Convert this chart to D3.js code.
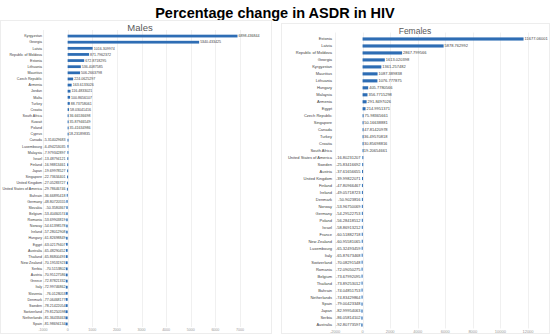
<!DOCTYPE html>
<html>
<head>
<meta charset="utf-8">
<script src="https://cdn.jsdelivr.net/npm/d3@7"></script>
<style>
  body { margin: 0; background: #fff; }
  text { font-family: "Liberation Sans", Arial, sans-serif; }
</style>
</head>
<body>
<svg id="chart" width="550" height="334"></svg>
<script>
// Males
var maleCountries = ["Kyrgyzstan", "Georgia", "Latvia", "Republic of Moldova", "Estonia", "Lithuania",
  "Mauritius", "Czech Republic", "Armenia", "Jordan", "Malta", "Turkey", "Croatia", "South Africa",
  "Kuwait", "Poland", "Cyprus", "Canada", "Luxembourg", "Malaysia", "Israel", "Finland", "Japan",
  "Singapore", "United Kingdom", "United States of America", "Bahrain", "Germany", "Slovakia",
  "Belgium", "Romania", "Norway", "Ireland", "Hungary", "Egypt", "Australia", "Thailand",
  "New Zealand", "Serbia", "Austria", "Greece", "Italy", "Slovenia", "Denmark", "Sweden",
  "Switzerland", "Netherlands", "Spain"];
var maleValues = [6898.436844, 5340.433425, 1016.309974, 871.7962372, 672.8718295, 536.4087585,
  506.2663798, 224.0625297, 163.6133026, 116.4833021, 100.8656107, 88.73758061, 58.03041416,
  36.66536698, 35.87946549, 35.41634986, 18.23189835, -5.314029683, -6.494253035, -7.979342897,
  -13.48794121, -16.98813461, -19.69978527, -22.73634401, -27.05283727, -29.78646746,
  -36.66895418, -48.80720555, -50.3580367, -53.40460574, -53.69903819, -54.61398578,
  -57.28012908, -61.82698849, -63.02179407, -65.48290452, -65.86800493, -70.19531923,
  -70.5153802, -70.95127586, -72.87821332, -72.99746862, -76.0128053, -77.06468177,
  -78.21422054, -79.81250598, -81.36433463, -81.98694134];
var maleTicks = [-1000, 0, 1000, 2000, 3000, 4000, 5000, 6000, 7000];

// Females
var femaleCountries = ["Estonia", "Latvia", "Republic of Moldova", "Georgia", "Kyrgyzstan",
  "Mauritius", "Lithuania", "Hungary", "Malaysia", "Armenia", "Egypt", "Czech Republic",
  "Singapore", "Canada", "Turkey", "Croatia", "South Africa", "United States of America",
  "Sweden", "Austria", "United Kingdom", "Finland", "Ireland", "Denmark", "Norway", "Germany",
  "Poland", "Israel", "France", "New Zealand", "Luxembourg", "Italy", "Switzerland", "Romania",
  "Belgium", "Thailand", "Bahrain", "Netherlands", "Spain", "Japan", "Serbia", "Australia"];
var femaleValues = [11677.06001, 5878.762992, 2867.799566, 1613.020398, 1361.257482,
  1087.389838, 1076.777875, 405.7780566, 356.7715298, 291.8497026, 214.9951371, 75.98365661,
  50.16638881, 47.81420978, 36.49570818, 30.85698816, 19.20654661, -16.80231207, -25.83416692,
  -37.61656655, -39.99822071, -47.80966467, -49.05718723, -50.9023816, -53.96750069,
  -54.29522753, -56.28418512, -58.86913212, -60.51882718, -60.95581065, -65.32493459,
  -65.87673468, -70.08291548, -72.09050275, -73.67992095, -73.89253012, -74.04851753,
  -74.83429864, -79.00423348, -82.99954063, -86.05814102, -92.80773597];
var femaleTicks = [-2000, 0, 2000, 4000, 6000, 8000, 10000, 12000];

var barColor = "#2e6db4";
var svg = d3.select("#chart");

svg.append("text")
   .attr("x", 275)
   .attr("y", 18)
   .attr("text-anchor", "middle")
   .attr("font-size", 14.5)
   .attr("font-weight", "bold")
   .attr("fill", "#000")
   .text("Percentage change in ASDR in HIV");

function fmt(v){
  return (+v.toPrecision(10)).toString();
}

function drawPanel(cfg){
  var g = svg.append("g");

  // chart area border
  g.append("rect")
   .attr("x", cfg.box[0] + 0.5)
   .attr("y", cfg.box[1] + 0.5)
   .attr("width", cfg.box[2] - cfg.box[0] - 1)
   .attr("height", cfg.box[3] - cfg.box[1] - 1)
   .attr("fill", "none")
   .attr("stroke", "#ededed");

  g.append("text")
   .attr("x", cfg.titleX)
   .attr("y", cfg.titleY)
   .attr("text-anchor", "middle")
   .attr("font-size", cfg.titleFs)
   .attr("fill", "#595959")
   .text(cfg.title);

  var x = d3.scaleLinear().domain(cfg.domain).range(cfg.xRange);
  var y = d3.scaleBand().domain(cfg.countries).range(cfg.yRange).paddingInner(0.55).paddingOuter(0.275);

  // gridlines
  g.append("g")
   .selectAll("line")
   .data(cfg.ticks)
   .enter()
   .append("line")
   .attr("x1", function(d){ return Math.round(x(d)) + 0.5; })
   .attr("x2", function(d){ return Math.round(x(d)) + 0.5; })
   .attr("y1", cfg.yRange[0] - 3)
   .attr("y2", cfg.yRange[1])
   .attr("stroke", "#ececec")
   .attr("stroke-width", 0.8);

  // tick labels
  g.append("g")
   .selectAll("text")
   .data(cfg.ticks)
   .enter()
   .append("text")
   .attr("x", function(d){ return x(d); })
   .attr("y", cfg.yRange[1] + 4)
   .attr("text-anchor", "middle")
   .attr("font-size", cfg.fs)
   .attr("fill", "#999")
   .text(function(d){ return d; });

  var rows = cfg.countries.map(function(c, i){ return {name: c, value: cfg.values[i]}; });

  // bars
  g.append("g")
   .selectAll("rect")
   .data(rows)
   .enter()
   .append("rect")
   .attr("x", function(d){ return x(Math.min(0, d.value)); })
   .attr("y", function(d){ return y(d.name); })
   .attr("width", function(d){ return Math.max(1, Math.abs(x(d.value) - x(0))); })
   .attr("height", y.bandwidth())
   .attr("fill", barColor);

  // category labels
  g.append("g")
   .selectAll("text")
   .data(rows)
   .enter()
   .append("text")
   .attr("x", cfg.labelX)
   .attr("y", function(d){ return y(d.name) + y.bandwidth() / 2; })
   .attr("dy", "0.35em")
   .attr("text-anchor", "end")
   .attr("font-size", cfg.fs)
   .attr("fill", "#404040")
   .text(function(d){ return d.name; });

  // value labels
  g.append("g")
   .selectAll("text")
   .data(rows)
   .enter()
   .append("text")
   .attr("x", function(d){ return d.value >= 0 ? x(d.value) + 1 : x(0) - 2; })
   .attr("y", function(d){ return y(d.name) + y.bandwidth() / 2; })
   .attr("dy", "0.35em")
   .attr("text-anchor", function(d){ return d.value >= 0 ? "start" : "end"; })
   .attr("font-size", cfg.fs)
   .attr("fill", "#404040")
   .text(function(d){ return fmt(d.value); });
}

drawPanel({
  title: "Males", titleX: 140, titleY: 31, titleFs: 9.5,
  box: [0, 20, 272, 334],
  countries: maleCountries, values: maleValues, ticks: maleTicks,
  domain: [-1000, 7000], xRange: [43, 240],
  yRange: [33, 327], labelX: 42, fs: 3.6
});

drawPanel({
  title: "Females", titleX: 415, titleY: 34, titleFs: 8.5,
  box: [281, 23, 550, 334],
  countries: femaleCountries, values: femaleValues, ticks: femaleTicks,
  domain: [-2000, 12000], xRange: [335, 528],
  yRange: [35.5, 328.5], labelX: 332, fs: 4
});
</script>
</body>
</html>
